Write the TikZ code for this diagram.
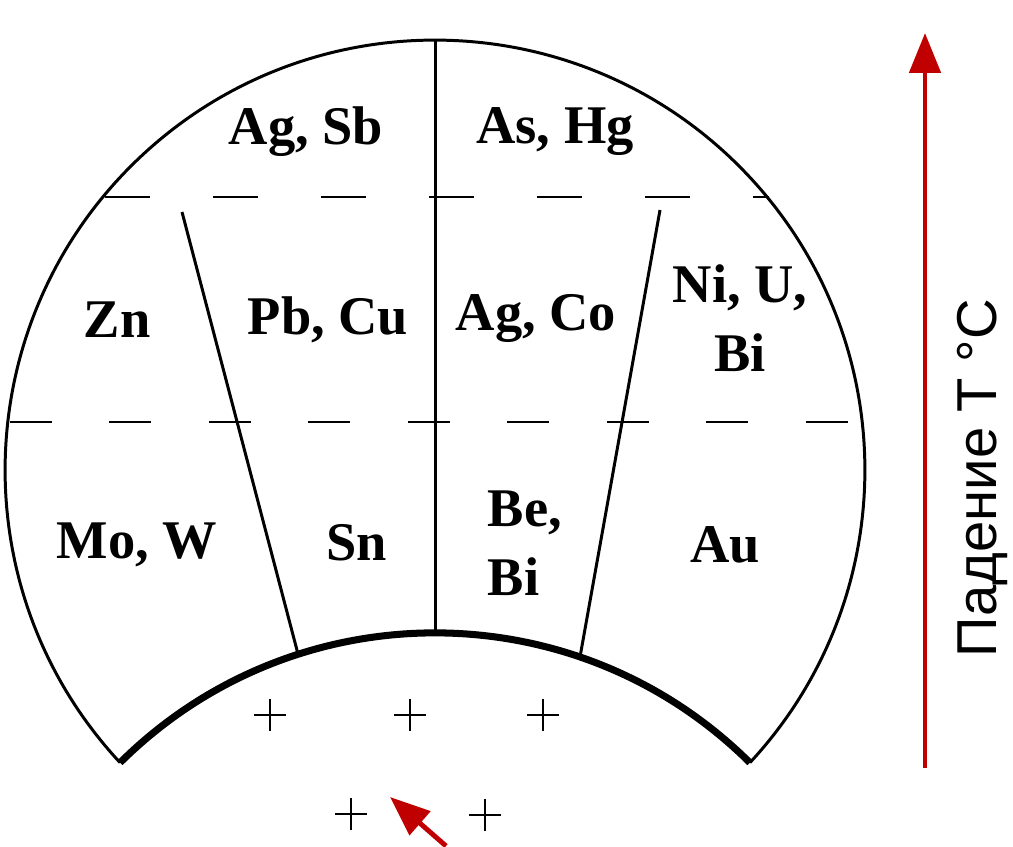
\documentclass[tikz,border=0pt]{standalone}
\usepackage{fontspec}
\setmainfont{Liberation Serif}
\newfontfamily\axisfont{Liberation Sans}
\usetikzlibrary{arrows.meta,positioning}
\definecolor{heat}{RGB}{192,0,0}

\begin{document}
\begin{tikzpicture}[
  x=0.02cm,y=0.02cm,
  zone/.style={font=\fontsize{31}{39}\selectfont\bfseries,inner sep=0pt,align=center},
  rim/.style={line width=1.7pt},
  floor/.style={line width=4pt},
  level/.style={line width=1.6pt,dash pattern=on 0.84cm off 1.15cm},
  upper/.style={line width=1.6pt,dash pattern=on 0.9cm off 1.26cm},
  plus/.style={line width=1.2pt},
  trend/.style={draw=heat,line width=2.8pt,-{Triangle[length=0.8cm,width=0.62cm]}}
]
  \useasboundingbox (0,0) rectangle (1013,846);

  % geometry of the fan
  \coordinate (oc) at (435,376);
  \coordinate (ic) at (435,-234);
  \coordinate (top) at (435,806);
  \coordinate (apex) at (435,213);
  \coordinate (bl) at ([shift={(222.9:8.6cm)}]oc);
  \coordinate (ul) at (105,649);
  \coordinate (ur) at (769,649);
  \coordinate (ll) at (10,424);
  \coordinate (lr) at (864,424);

  \draw[rim] (bl) arc[start angle=222.9,end angle=-42.9,radius=8.6cm];
  \draw[floor] (bl) arc[start angle=134.8,end angle=45.2,radius=8.94cm];
  \draw[rim] (top) -- (apex);
  \draw[upper] (ul) -- (ur);
  \draw[level] (ll) -- (lr);
  \draw[rim] (182,634) -- (298,192);
  \draw[rim] (660,636) -- (580,189);

  \foreach \px/\py in {270/131,410/131,543/131,351/32,485/31}
    \draw[plus] (\px-16,\py) -- (\px+16,\py) (\px,\py-16) -- (\px,\py+16);

  % zones
  \node[zone] (agsb) at (306,714) {Ag, Sb};
  \node[zone] (ashg) at (555,714) {As, Hg};
  \node[zone] (zn) at (117,526) {Zn};
  \node[zone] (pbcu) at (328,526) {Pb, Cu};
  \node[zone] (agco) at (536,528) {Ag, Co};
  \node[zone] (niubi) at (740,528) {Ni, U,\\Bi};
  \node[zone] (mow) at (137,301) {Mo, W};
  \node[zone] (sn) at (357,303) {Sn};
  \node[zone,align=left] (bebi) at (525,303) {Be,\\Bi};
  \node[zone] (au) at (725,301) {Au};

  % temperature axis
  \coordinate (vbase) at (925,78);
  \coordinate (vtip) at (925,813);
  \coordinate (dbase) at (446,0);
  \coordinate (dtip) at (390,49);
  \draw[trend] (vbase) -- (vtip);
  \draw[trend] (dbase) -- (dtip);
  \node[rotate=90,font=\axisfont\fontsize{32}{32}\selectfont] (fall) at (982,368) {Падение T °C};
\end{tikzpicture}
\end{document}
